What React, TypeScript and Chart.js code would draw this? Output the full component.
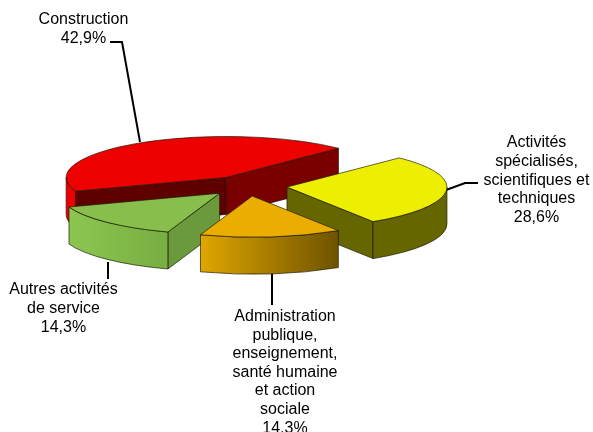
import React, { useEffect, useRef } from "react";
import { Chart, registerables } from "chart.js";

Chart.register(...registerables);

const categories = [
  "Construction",
  "Activités spécialisés, scientifiques et techniques",
  "Administration publique, enseignement, santé humaine et action sociale",
  "Autres activités de service",
];
const shares = [42.9, 28.6, 14.3, 14.3];

const topColors = ["#EE0000", "#EEEE00", "#EBAE00", "#87BE4C"];
const wallFrom = ["#EE0000", "#666600", "#E0A600", "#8CC650"];
const wallTo = ["#EE0000", "#666600", "#6E5200", "#78AE42"];
const startFace = ["#5E0000", "#666600", "#6E5200", "#6B9A3C"];
const endFace = ["#7A0000", "#666600", "#6E5200", "#6B9A3C"];

const labelLines = [
  ["Construction"],
  ["Activités", "spécialisés,", "scientifiques et", "techniques"],
  ["Administration", "publique,", "enseignement,", "santé humaine", "et action", "sociale"],
  ["Autres activités", "de service"],
];
const labelAnchors = [
  [83.5, 20],
  [536.5, 143],
  [285, 316.5],
  [63.5, 290],
];
const leaders = [
  [[110, 42], [122, 42], [140, 142]],
  [[446, 190], [465, 183], [478, 183]],
  [[272, 270], [272, 305]],
  [[108, 262], [108, 279]],
];

const tilt = 0.256;
const depth = 37;
const explode = 0.248;
const lineStep = 18.6;
const drawOrder = [0, 1, 3, 2];
const edge = "rgba(20,20,0,0.65)";

const pie3d = {
  id: "pie3d",
  beforeDatasetDraw(chart: any, args: any) {
    const ctx: CanvasRenderingContext2D = chart.ctx;
    const arcs = args.meta.data;

    ctx.save();
    ctx.strokeStyle = "#000";
    ctx.lineWidth = 2;
    leaders.forEach((path) => {
      ctx.beginPath();
      path.forEach(([x, y], i) => (i ? ctx.lineTo(x, y) : ctx.moveTo(x, y)));
      ctx.stroke();
    });
    ctx.restore();

    drawOrder.forEach((i) => {
      const arc = arcs[i];
      const R = arc.outerRadius;
      const s = arc.startAngle;
      const e = arc.endAngle;
      const mid = (s + e) / 2;
      const shift = R * explode;
      const cx = arc.x + Math.cos(mid) * shift;
      const cy = arc.y + Math.sin(mid) * shift * tilt;
      const px = (t: number) => cx + R * Math.cos(t);
      const py = (t: number) => cy + R * tilt * Math.sin(t);

      const face = (t: number, color: string) => {
        ctx.beginPath();
        ctx.moveTo(cx, cy);
        ctx.lineTo(px(t), py(t));
        ctx.lineTo(px(t), py(t) + depth);
        ctx.lineTo(cx, cy + depth);
        ctx.closePath();
        ctx.fillStyle = color;
        ctx.fill();
        ctx.strokeStyle = edge;
        ctx.lineWidth = 1;
        ctx.stroke();
      };

      if (Math.sin(s - Math.PI / 2) > 0) face(s, startFace[i]);
      if (Math.sin(e + Math.PI / 2) > 0) face(e, endFace[i]);

      for (let k = -1; k <= 2; k++) {
        const lo = Math.max(s, 2 * Math.PI * k);
        const hi = Math.min(e, Math.PI + 2 * Math.PI * k);
        if (hi <= lo) continue;
        ctx.beginPath();
        ctx.ellipse(cx, cy, R, R * tilt, 0, lo, hi);
        ctx.lineTo(px(hi), py(hi) + depth);
        ctx.ellipse(cx, cy + depth, R, R * tilt, 0, hi, lo, true);
        ctx.closePath();
        const g = ctx.createLinearGradient(Math.min(px(lo), px(hi)), 0, Math.max(px(lo), px(hi)), 0);
        g.addColorStop(0, wallFrom[i]);
        g.addColorStop(1, wallTo[i]);
        ctx.fillStyle = g;
        ctx.fill();
        ctx.strokeStyle = edge;
        ctx.lineWidth = 1;
        ctx.stroke();
      }

      // Top face: the library's own arc element, squashed and moved out.
      ctx.save();
      ctx.translate(Math.cos(mid) * shift, arc.y + Math.sin(mid) * shift * tilt);
      ctx.scale(1, tilt);
      ctx.translate(0, -arc.y);
      arc.draw(ctx);
      ctx.restore();

      ctx.beginPath();
      ctx.moveTo(cx, cy);
      ctx.ellipse(cx, cy, R, R * tilt, 0, s, e);
      ctx.closePath();
      ctx.strokeStyle = edge;
      ctx.lineWidth = 1;
      ctx.stroke();
    });

    return false;
  },
  afterDraw(chart: any) {
    const ctx: CanvasRenderingContext2D = chart.ctx;
    ctx.save();
    ctx.fillStyle = "#000";
    ctx.font = '16px "Liberation Sans", Arial, sans-serif';
    ctx.textAlign = "center";
    ctx.textBaseline = "middle";
    labelLines.forEach((lines, i) => {
      const [x, y] = labelAnchors[i];
      const all = [...lines, shares[i].toFixed(1).replace(".", ",") + "%"];
      all.forEach((line, j) => ctx.fillText(line, x, y + j * lineStep));
    });
    ctx.restore();
  },
};

export default function App() {
  const ref = useRef<HTMLCanvasElement>(null);
  useEffect(() => {
    const chart = new Chart(ref.current as HTMLCanvasElement, {
      type: "pie",
      data: {
        labels: categories,
        datasets: [{ data: shares, backgroundColor: topColors, borderWidth: 0 }],
      },
      options: {
        animation: false,
        responsive: false,
        events: [],
        rotation: 250.3,
        radius: 160,
        layout: { padding: { right: 98, bottom: 60 } },
        plugins: { legend: { display: false }, tooltip: { enabled: false } },
      } as any,
      plugins: [pie3d],
    });
    return () => chart.destroy();
  }, []);
  return (
    <div style={{ position: "fixed", left: 0, top: 0, width: 593, height: 432, background: "#fff" }}>
      <canvas ref={ref} width={593} height={432} style={{ display: "block" }} />
    </div>
  );
}
